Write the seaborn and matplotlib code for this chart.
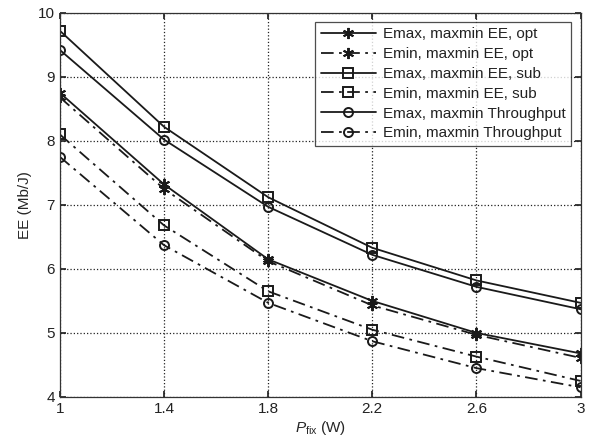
import numpy as np
import pandas as pd
import matplotlib
matplotlib.use("Agg")
import matplotlib.pyplot as plt
import seaborn as sns

p_fix = [1.0, 1.4, 1.8, 2.2, 2.6, 3.0]
emax_opt = [8.75, 7.32, 6.15, 5.50, 5.00, 4.68]
emin_opt = [8.68, 7.25, 6.12, 5.43, 4.97, 4.61]
emax_sub = [9.72, 8.22, 7.12, 6.33, 5.82, 5.47]
emin_sub = [8.10, 6.68, 5.65, 5.05, 4.63, 4.25]
emax_thr = [9.42, 8.02, 6.97, 6.22, 5.72, 5.37]
emin_thr = [7.75, 6.37, 5.47, 4.87, 4.45, 4.15]

labels = ["Emax, maxmin EE, opt", "Emin, maxmin EE, opt",
          "Emax, maxmin EE, sub", "Emin, maxmin EE, sub",
          "Emax, maxmin Throughput", "Emin, maxmin Throughput"]
series = [emax_opt, emin_opt, emax_sub, emin_sub, emax_thr, emin_thr]

df = pd.concat([pd.DataFrame({"P": p_fix, "EE": s, "series": l})
                for l, s in zip(labels, series)], ignore_index=True)

sns.set_theme(style="white")
plt.rcParams['font.family'] = ['Liberation Sans', 'DejaVu Sans']
plt.rcParams['mathtext.fontset'] = 'custom'
plt.rcParams['mathtext.it'] = 'Liberation Sans:italic'
plt.rcParams['mathtext.rm'] = 'Liberation Sans'

fig = plt.figure(figsize=(5.93, 4.43), dpi=100)
ax = fig.add_axes([0.101, 0.104, 0.878, 0.867])

asterisk = (6, 2, 0)
dashdot = (7, 3, 1.5, 3)
styles = [
    dict(ls="-", marker=asterisk, ms=8),
    dict(ls=(0, dashdot), marker=asterisk, ms=8),
    dict(ls="-", marker="s", ms=7),
    dict(ls=(0, dashdot), marker="s", ms=7),
    dict(ls="-", marker="o", ms=6.5),
    dict(ls=(0, dashdot), marker="o", ms=6.5),
]
for l, st in zip(labels, styles):
    sub = df[df["series"] == l]
    sns.lineplot(data=sub, x="P", y="EE", ax=ax, color="#1a1a1a", lw=1.3,
                 linestyle=st["ls"], marker=st["marker"], markersize=st["ms"],
                 markerfacecolor="none", markeredgecolor="#1a1a1a",
                 markeredgewidth=1.4, label=l)

ax.set_xlim(1, 3)
ax.set_ylim(4, 10)
ax.set_xticks(p_fix)
ax.set_xticklabels(["1", "1.4", "1.8", "2.2", "2.6", "3"])
ax.set_yticks([4, 5, 6, 7, 8, 9, 10])
ax.grid(True, linestyle=":", color="#222222", linewidth=0.9)
ax.tick_params(direction="in", length=4, labelsize=11, colors="#222222",
               top=True, right=True, bottom=True, left=True)
for sp in ax.spines.values():
    sp.set_color("#333333")
    sp.set_linewidth(0.9)
ax.set_xlabel(r"$P_{\mathrm{fix}}$ (W)", fontsize=11, labelpad=2)
ax.set_ylabel("EE (Mb/J)", fontsize=11, labelpad=4)

leg = ax.legend(loc="upper right", fontsize=11, frameon=True, fancybox=False,
                borderaxespad=0.6, handlelength=3.6, labelspacing=0.38,
                borderpad=0.35, handletextpad=0.5)
leg.get_frame().set_edgecolor("#222222")
leg.get_frame().set_linewidth(0.9)
for t in leg.get_texts():
    t.set_color("#222222")

fig.savefig("out.png", dpi=100)
